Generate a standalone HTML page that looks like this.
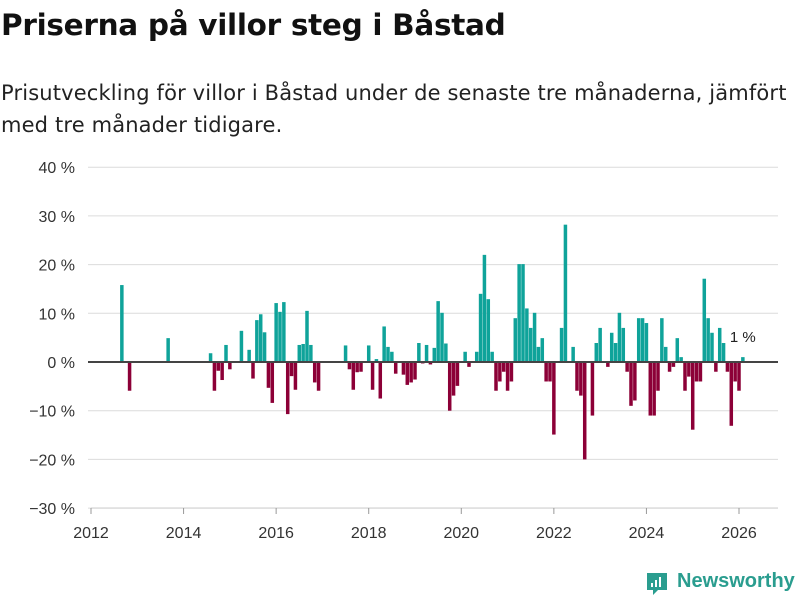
<!DOCTYPE html>
<html><head><meta charset="utf-8"><style>
body{margin:0;background:#fff;font-family:"DejaVu Sans","Liberation Sans",sans-serif;}
#wrap{position:relative;width:800px;height:600px;overflow:hidden;}
h1{position:absolute;left:1px;top:8px;margin:0;font-size:29.5px;font-weight:bold;color:#111;letter-spacing:-0.3px;}
#sub{position:absolute;left:1px;top:77px;margin:0;font-size:21px;line-height:32px;color:#222;letter-spacing:0.15px;}
</style></head><body>
<div id="wrap">
<h1>Priserna på villor steg i Båstad</h1>
<p id="sub">Prisutveckling för villor i Båstad under de senaste tre månaderna, jämfört<br>med tre månader tidigare.</p>
<svg id="chart" width="800" height="600" style="position:absolute;left:0;top:0"></svg>
<div style="position:absolute;left:645px;top:570px;width:155px;height:26px;">
<svg width="24" height="26" style="position:absolute;left:0;top:1px"><path d="M2 2h20v17h-9l-5 5v-5H2z" fill="#2a9d8f"/><rect x="6" y="12" width="2" height="4" fill="#fff"/><rect x="10" y="9" width="2" height="7" fill="#fff"/><rect x="14" y="6" width="2" height="10" fill="#fff"/></svg>
<span style="position:absolute;left:32px;top:0;font-size:20px;font-weight:bold;color:#2a9d8f;font-family:'Liberation Sans',sans-serif;">Newsworthy</span></div>
</div>
<script>
// months since Jan 2012
const months = [8,10,20,31,32,33,34,35,36,39,41,42,43,44,45,46,47,48,49,50,51,52,53,54,55,56,57,58,59,
66,67,68,69,70,72,73,74,75,76,77,78,79,81,82,83,84,85,86,87,88,89,90,91,92,93,94,95,97,98,
100,101,102,103,104,105,106,107,108,109,110,111,112,113,114,115,116,117,118,119,120,122,123,125,126,127,128,130,131,132,
134,135,136,137,138,139,140,141,142,143,144,145,146,147,148,149,150,151,152,153,154,155,156,157,158,159,160,161,162,163,164,165,166,167,168,169];
const values = [15.8,-5.9,4.9,1.8,-5.9,-1.8,-3.7,3.5,-1.5,6.4,2.5,-3.4,8.6,9.8,6.1,-5.3,-8.4,12.1,10.3,12.3,-10.7,-2.9,-5.7,3.5,3.7,10.5,3.5,-4.2,-5.9,
3.4,-1.5,-5.7,-2.1,-2.0,3.4,-5.7,0.6,-7.5,7.3,3.1,2.1,-2.4,-2.6,-4.7,-4.2,-3.6,3.9,-0.3,3.5,-0.5,2.9,12.5,10.1,3.8,-10,-6.9,-4.9,2.1,-1.0,
2.1,14,22,12.9,2.1,-5.9,-4.0,-2.0,-5.9,-4.0,9.0,20.1,20.1,11,7.0,10.1,3.1,4.9,-4.0,-4.0,-14.9,7.0,28.2,3.1,-5.9,-6.9,-20,-11,3.9,7.0,
-1.0,6.0,3.9,10.1,7.0,-2.0,-9.0,-7.9,9.0,9.0,8.0,-11,-11,-5.9,9.0,3.1,-2.0,-1.0,4.9,1.0,-5.9,-3.0,-13.9,-4.0,-4.0,17.1,9.0,6.0,-2.0,7.0,3.9,-2.0,-13.1,-4.0,-5.9,1.0];
const yTicks = [40,30,20,10,0,-10,-20,-30];
const xTicks = [2012,2014,2016,2018,2020,2022,2024,2026];
const NS="http://www.w3.org/2000/svg";
const svg=document.getElementById('chart');
const X=m=>91+m*(648/168);
const Y=v=>362-v*4.87;
function mk(t,a){const e=document.createElementNS(NS,t);for(const k in a)e.setAttribute(k,a[k]);svg.appendChild(e);return e;}
yTicks.forEach(t=>{
  if(t!==0){const g=mk('line',{x1:88,x2:778,y1:Y(t),y2:Y(t),stroke:'#dcdcdc','stroke-width':1});
  
  }
  const l=mk('text',{x:75,y:Y(t)+6,'text-anchor':'end','font-size':16,fill:'#333','font-family':'Liberation Sans, sans-serif'});
  l.textContent=(t<0?'−'+(-t):t)+' %';
  
  
});
const ax=mk('line',{x1:91,x2:778,y1:508,y2:508,stroke:'#ccc','stroke-width':1});


xTicks.forEach(yr=>{
  const x=X((yr-2012)*12);
  const tk=mk('line',{x1:x,x2:x,y1:508,y2:514,stroke:'#999'});
  
  
  const l=mk('text',{x:x,y:538,'text-anchor':'middle','font-size':16,fill:'#333','font-family':'Liberation Sans, sans-serif'});
  l.textContent=yr;
  
  
});
months.forEach((m,i)=>{
  const v=values[i];
  const y0=Y(0),y1=Y(v);
  const r=mk('rect',{x:X(m)-1.75,width:3.5,y:Math.min(y0,y1),height:Math.abs(y1-y0),fill:v>=0?'#0fa39a':'#8c0037'});
  
  
});
const z=mk('line',{x1:88,x2:778,y1:Y(0),y2:Y(0),stroke:'#444','stroke-width':2});


const lastM=months[months.length-1],lastV=values[values.length-1];
const an=mk('text',{x:X(lastM),y:Y(lastV)-15,'text-anchor':'middle','font-size':15,fill:'#222','font-family':'Liberation Sans, sans-serif'});
an.textContent=Math.round(lastV)+' %';


</script>
</body></html>
